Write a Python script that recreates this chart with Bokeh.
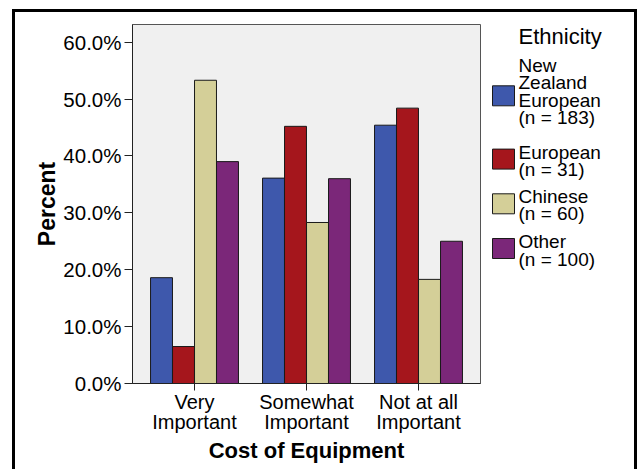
from bokeh.plotting import figure
from bokeh.layouts import row
from bokeh.models import (Range1d, FixedTicker, PrintfTickFormatter,
                          ColumnDataSource)
from bokeh.transform import dodge
from bokeh.core.properties import value
from bokeh.embed import file_html
from bokeh.resources import INLINE

# ---- data ----
categories = ["Very\nImportant", "Somewhat\nImportant", "Not at all\nImportant"]
legend_title = "Ethnicity"
groups = ["New\nZealand\nEuropean\n(n = 183)", "European\n(n = 31)",
          "Chinese\n(n = 60)", "Other\n(n = 100)"]
nz_european = [18.6, 36.1, 45.4]
european = [6.5, 45.2, 48.4]
chinese = [53.3, 28.3, 18.3]
other = [39.0, 36.0, 25.0]
y_ticks = [0, 10, 20, 30, 40, 50, 60]

colors = ["#3e58ac", "#a5161c", "#d4cf98", "#7b2779"]
FONT = "Liberation Sans"

# shared vertical layout (pixels)
TOP, FRAME_H, BOTTOM = 12, 359, 86

x_pos = list(range(len(categories)))
source = ColumnDataSource(dict(x=x_pos, nz=nz_european, eu=european,
                               cn=chinese, ot=other))

# ---------------- main chart ----------------
p = figure(frame_width=348, frame_height=FRAME_H,
           min_border_left=117, min_border_right=10,
           min_border_top=TOP, min_border_bottom=BOTTOM,
           x_range=Range1d(-0.5536, 2.5536), y_range=Range1d(0, 63.1),
           output_backend="svg", toolbar_location=None)

p.background_fill_color = "#f0f0f0"
p.border_fill_color = "white"
p.outline_line_color = "#555555"
p.outline_line_width = 1
p.xgrid.visible = False
p.ygrid.visible = False

bar_w = 0.196
offsets = [-0.2946, -0.0982, 0.0982, 0.2946]
cols = ["nz", "eu", "cn", "ot"]
for col, off, c in zip(cols, offsets, colors):
    p.vbar(x=dodge("x", off, range=p.x_range), top=col, width=bar_w,
           bottom=0, source=source, fill_color=c, line_color="#1a1a1a",
           line_width=1)

ya = p.yaxis[0]
ya.ticker = FixedTicker(ticks=y_ticks)
ya.formatter = PrintfTickFormatter(format="%.1f%%")
ya.major_tick_out = 8
ya.major_tick_in = 0
ya.minor_tick_out = 0
ya.minor_tick_in = 0
ya.major_label_standoff = 3
ya.major_label_text_font = FONT
ya.major_label_text_font_size = "20.5px"
ya.major_label_text_color = "black"
ya.axis_line_color = "#222222"
ya.major_tick_line_color = "#222222"
ya.axis_label = "Percent"
ya.axis_label_text_font = FONT
ya.axis_label_text_font_style = "bold"
ya.axis_label_text_font_size = "23px"
ya.axis_label_text_color = "black"
ya.axis_label_standoff = 0

xa = p.xaxis[0]
xa.ticker = FixedTicker(ticks=x_pos)
xa.major_label_overrides = {i: c for i, c in zip(x_pos, categories)}
xa.major_tick_out = 7
xa.major_tick_in = 0
xa.minor_tick_out = 0
xa.minor_tick_in = 0
xa.major_label_standoff = 0
xa.major_label_text_font = FONT
xa.major_label_text_font_size = "20px"
xa.major_label_text_line_height = 0.95
xa.major_label_text_color = "black"
xa.axis_line_color = "#222222"
xa.major_tick_line_color = "#222222"
xa.axis_label = "Cost of Equipment"
xa.axis_label_text_font = FONT
xa.axis_label_text_font_style = "bold"
xa.axis_label_text_font_size = "22px"
xa.axis_label_text_color = "black"
xa.axis_label_standoff = 2

# ---------------- legend panel ----------------
# y coordinates below are canvas pixels from the top of the chart canvas
LW = 144
leg = figure(frame_width=LW, frame_height=FRAME_H, min_border_left=0,
             min_border_right=0, min_border_top=TOP, min_border_bottom=BOTTOM,
             x_range=Range1d(0, LW), y_range=Range1d(TOP + FRAME_H, TOP),
             x_axis_type=None, y_axis_type=None,
             output_backend="svg", toolbar_location=None)
leg.outline_line_color = None
leg.background_fill_color = "white"
leg.border_fill_color = "white"
leg.xgrid.visible = False
leg.ygrid.visible = False

sw_left, sw_w, sw_h = 2, 22, 20
text_x = 28
line_pitch = 17.5
title_baseline = 24
first_baselines = [52.5, 139.5, 183.5, 229.0]
swatch_tops = [73.3, 136.6, 181.3, 226.0]

leg.quad(left=[sw_left] * len(groups), right=[sw_left + sw_w] * len(groups),
         top=swatch_tops, bottom=[t + sw_h for t in swatch_tops],
         fill_color=colors, line_color="#1a1a1a", line_width=1)

tx, ty, tt = [], [], []
for g, b0 in zip(groups, first_baselines):
    for k, line in enumerate(g.split("\n")):
        tx.append(text_x)
        ty.append(b0 + k * line_pitch)
        tt.append(line)
leg.text(x=tx, y=ty, text=tt, text_font=value(FONT),
         text_font_size=value("19px"), text_color="black",
         text_baseline="alphabetic", text_align="left")
leg.text(x=[text_x], y=[title_baseline], text=[legend_title],
         text_font=value(FONT), text_font_size=value("22px"),
         text_color="black", text_baseline="alphabetic", text_align="left")

layout = row(p, leg)
layout.styles = {"border-top": "3px solid black",
                 "border-left": "3px solid black",
                 "border-right": "3px solid black"}
layout.margin = (9, 0, 0, 12)

open("out.html", "w").write(file_html(layout, INLINE))
